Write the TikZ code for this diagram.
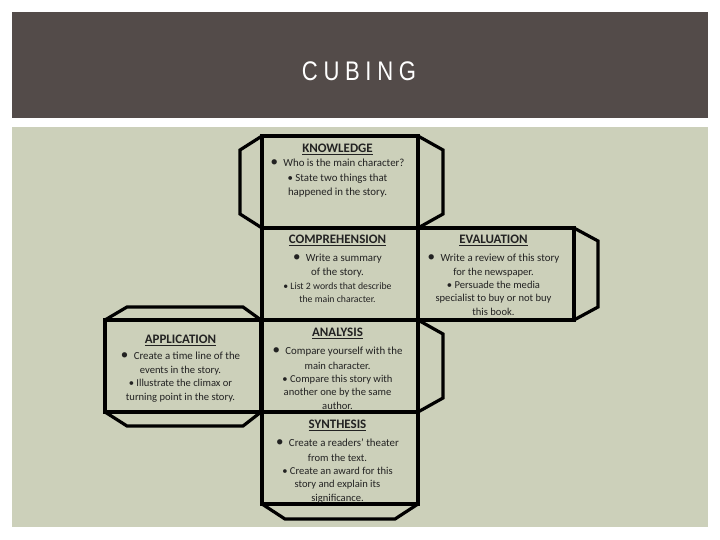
\documentclass[tikz,border=0pt]{standalone}
\usepackage{fontspec}
\setmainfont{Carlito}
\newfontfamily\titlefont[FakeStretch=0.82, LetterSpace=21]{Liberation Sans}
\usetikzlibrary{positioning, calc}
\definecolor{headbrown}{HTML}{534B49}
\definecolor{panelsage}{HTML}{CCD0BA}
\definecolor{inkgray}{HTML}{222222}
\newcommand{\facehead}[1]{{\bfseries\fontsize{13}{14}\selectfont\underline{#1}}}
\newcommand{\bigdot}{{\fontsize{15}{13}\selectfont\textbullet}\enspace}
\newcommand{\bigline}{\fontsize{10.9}{13.3}\selectfont}

\begin{document}
\begin{tikzpicture}[
    x=1bp, y=-1bp,
    face/.style={
      draw=black,
      line width=3.8bp,
      minimum width=156bp,
      minimum height=92bp,
      inner sep=0pt,
      outer sep=0pt
    },
    flap/.style={draw=black, line width=3.2bp},
    facetext/.style={
      align=center,
      inner sep=0pt,
      xshift=-2.5bp,
      text=inkgray,
      font=\fontsize{10.6}{13.3}\selectfont
    }
  ]
    \useasboundingbox (0,0) rectangle (720,540);
    \fill[white] (0,0) rectangle (720,540);
    \fill[headbrown] (12,12) rectangle (708,118);
    \fill[panelsage] (12,127) rectangle (708,527);
    \node[font=\titlefont\fontsize{27}{30}\selectfont, text=white] (title) at (359,71) {CUBING};

    % faces of the cube net
    \node[face] (know) at (340,182) {};
    \node[face] (comp) at (340,274) {};
    \node[face] (anal) at (340,366) {};
    \node[face] (synt) at (340,458) {};
    \node[face] (eval) at (496,274) {};
    \node[face] (appl) at (183,366) {};

    % glue flaps
    \draw[flap] (know.north west) -- ++(-22,14) -- ++(0,64) -- (know.south west);
    \draw[flap] (know.north east) -- ++(25,14) -- ++(0,64) -- (know.south east);
    \draw[flap] (eval.north east) -- ++(24,13) -- ++(0,66) -- (eval.south east);
    \draw[flap] (anal.north east) -- ++(25,14) -- ++(0,64) -- (anal.south east);
    \draw[flap] (appl.north west) -- ++(22,-13) -- ++(116,0) -- (appl.north east);
    \draw[flap] (appl.south west) -- ++(22,14) -- ++(116,0) -- (appl.south east);
    \draw[flap] (synt.south west) -- ++(23,15) -- ++(110,0) -- (synt.south east);

    \node[facetext, below=8bp of know.north] (knowtext) {\facehead{KNOWLEDGE}\\[0.5pt]
      {\bigline\bigdot Who is the main character?}\\[1.8pt]
      {\bigline\textbullet\ State two things that}\\[0.8pt]
      {\bigline happened in the story.}};
    \node[facetext, below=7bp of comp.north] (comptext) {\facehead{COMPREHENSION}\\[4.3pt]
      {\bigline\bigdot Write a summary}\\[1.4pt]
      {\bigline of the story.}\\
      {\fontsize{9.8}{13.3}\selectfont\textbullet\ List 2 words that describe}\\
      {\fontsize{9.8}{13.3}\selectfont the main character.}};
    \node[facetext, below=7bp of eval.north] (evaltext) {\facehead{EVALUATION}\\[4.5pt]
      {\bigline\bigdot Write a review of this story}\\[0.8pt]
      for the newspaper.\\
      \textbullet\ Persuade the media\\
      specialist to buy or not buy\\
      this book.};
    \node[facetext, below=8.3bp of anal.north] (analtext) {\facehead{ANALYSIS}\\[4.3pt]
      {\bigline\bigdot Compare yourself with the}\\[1.7pt]
      main character.\\
      \textbullet\ Compare this story with\\
      another one by the same\\
      author.};
    \node[facetext, below=15bp of appl.north] (appltext) {\facehead{APPLICATION}\\[2.7pt]
      {\bigline\bigdot Create a time line of the}\\[0.7pt]
      events in the story.\\
      \textbullet\ Illustrate the climax or\\
      turning point in the story.};
    \node[facetext, below=8bp of synt.north] (synttext) {\facehead{SYNTHESIS}\\[4.4pt]
      {\bigline\bigdot Create a readers' theater}\\[1.7pt]
      from the text.\\
      \textbullet\ Create an award for this\\
      story and explain its\\
      significance.};
  \end{tikzpicture}
\end{document}
